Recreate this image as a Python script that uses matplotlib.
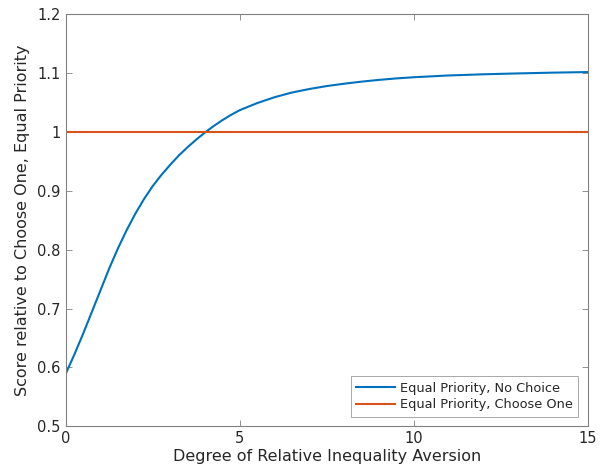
import matplotlib.pyplot as plt
from matplotlib.ticker import FuncFormatter

# degree of relative inequality aversion
aversion = [0, 0.25, 0.5, 0.75, 1, 1.25, 1.5, 1.75, 2, 2.25, 2.5, 2.75, 3,
            3.25, 3.5, 3.75, 4, 4.25, 4.5, 4.75, 5, 5.5, 6, 6.5, 7, 7.5, 8,
            8.5, 9, 9.5, 10, 11, 12, 13, 14, 15]
# score relative to choose one, equal priority
no_choice = [0.589, 0.622, 0.657, 0.694, 0.731, 0.768, 0.802, 0.833, 0.861,
             0.886, 0.908, 0.927, 0.944, 0.960, 0.974, 0.987, 0.999, 1.010,
             1.020, 1.029, 1.037, 1.049, 1.059, 1.067, 1.073, 1.078, 1.082,
             1.0855, 1.0885, 1.091, 1.093, 1.096, 1.098, 1.0995, 1.1008, 1.1018]
choose_one = [1.0] * len(aversion)

labels = ['Equal Priority, No Choice', 'Equal Priority, Choose One']

fig = plt.figure(figsize=(6.08, 4.75), dpi=100)
ax = fig.add_axes([0.108, 0.1025, 0.8586, 0.8675])

ax.plot(aversion, no_choice, color='#0072BD', lw=1.5, label=labels[0])
ax.plot(aversion, choose_one, color='#D95319', lw=1.5, label=labels[1])

ax.set_xlim(0, 15)
ax.set_ylim(0.5, 1.2)
ax.set_xticks([0, 5, 10, 15])
ax.set_yticks([0.5, 0.6, 0.7, 0.8, 0.9, 1.0, 1.1, 1.2])
ax.yaxis.set_major_formatter(FuncFormatter(lambda v, p: '%g' % round(v, 2)))

grey = '#262626'
ax.tick_params(direction='in', length=4, width=0.6, colors='#808080',
               labelcolor=grey, labelsize=10.5, top=True, right=True)
for s in ax.spines.values():
    s.set_color('#808080')
    s.set_linewidth(0.8)

ax.set_xlabel('Degree of Relative Inequality Aversion', fontsize=11.5, color=grey, labelpad=2)
ax.set_ylabel('Score relative to Choose One, Equal Priority', fontsize=11.5, color=grey, labelpad=5)

leg = ax.legend(loc='lower right', fontsize=9.3, frameon=True, fancybox=False,
                borderaxespad=0.75, handlelength=3.0, borderpad=0.4,
                labelspacing=0.3, handletextpad=0.4)
leg.get_frame().set_edgecolor('#808080')
leg.get_frame().set_linewidth(0.6)
for t in leg.get_texts():
    t.set_color(grey)

fig.savefig('out.png', dpi=100)
